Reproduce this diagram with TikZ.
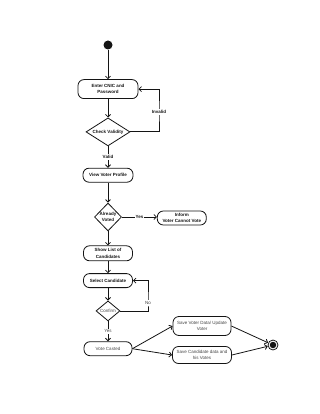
\documentclass[tikz,border=0pt]{standalone}
\usepackage{fontspec}
\setmainfont{Liberation Sans}
\usepackage{xcolor}
\usetikzlibrary{arrows.meta,positioning,shapes.geometric}
\definecolor{ink}{RGB}{20,20,20}
\definecolor{grayink}{RGB}{70,70,70}
\tikzset{
  actbox/.style={draw=ink, rounded corners=6pt, line width=0.8pt,
    minimum width=49pt, minimum height=14pt, inner sep=1pt, align=center,
    font=\fontsize{4.5}{6.2}\selectfont\bfseries, text=ink, fill=white},
  lowbox/.style={actbox, font=\fontsize{4.5}{6.2}\selectfont, text=grayink},
  choice/.style={diamond, draw=ink, line width=0.8pt, inner sep=0pt, fill=white},
  choicetext/.style={align=center, inner sep=0pt, font=\fontsize{4.5}{6}\selectfont\bfseries, text=ink},
  lowchoicetext/.style={choicetext, font=\fontsize{4.5}{6}\selectfont, text=grayink},
  guard/.style={fill=white, inner sep=1pt, font=\fontsize{4.5}{5.6}\selectfont\bfseries, text=ink},
  lowguard/.style={guard, font=\fontsize{4.5}{5.6}\selectfont, text=grayink},
  flow/.style={-{Straight Barb[length=2.5pt,width=5pt]}, line width=0.8pt, draw=ink}
}

\begin{document}
\begin{tikzpicture}[x=1pt, y=-1pt, node distance=20pt]
\useasboundingbox (0,0) rectangle (320,414);
\node[circle, fill=ink, minimum size=9pt, inner sep=0pt] (start) at (108,45) {};
\node[actbox, minimum width=60pt, minimum height=19pt, below=29.5pt of start] (cnic) {Enter CNIC and\\Password};
\node[choice, minimum width=44pt, minimum height=28pt, below=18.5pt of cnic,
  label={[choicetext]center:Check Validity}] (valid) {};
\node[actbox, minimum width=50pt, below=21.5pt of valid] (profile) {View Voter Profile};
\node[choice, minimum width=27pt, minimum height=28pt, below=20pt of profile,
  label={[choicetext]center:Already\\Voted}] (voted) {};
\node[actbox, right=35pt of voted, yshift=-1pt] (inform) {Inform\\Voter Cannot Vote};
\node[actbox, minimum height=15pt, below=14pt of voted] (list) {Show List of\\Candidates};
\node[actbox, below=12pt of list] (select) {Select Candidate};
\node[choice, minimum width=24pt, minimum height=20pt, below=12.5pt of select,
  label={[lowchoicetext]center:Confirm}] (confirm) {};
\node[lowbox, minimum width=48pt, below=20pt of confirm] (vote) {Vote Casted};
\node[lowbox, minimum width=58pt, minimum height=19pt] (savevoter) at (202,326) {Save Voter Data/ Update\\Voter};
\node[lowbox, minimum width=59pt, minimum height=17pt] (savecand) at (202,355) {Save Candidate data and\\his Votes};
\node[circle, draw=ink, line width=0.8pt, minimum size=10pt, inner sep=0pt] (finish) at (273,345) {};
\node[circle, fill=ink, minimum size=6.5pt, inner sep=0pt] (finishdot) at (finish) {};

\coordinate (invalidturn) at (159,112);
\coordinate (noturn) at (148,303);

\draw[flow] (start) -- (cnic);
\draw[flow] (cnic) -- (valid);
\draw[flow] (valid.east) -| (invalidturn) |- (cnic.east);
\node[guard] (invalidlbl) at (invalidturn) {Invalid};
\draw[flow] (valid) -- node[guard] (validlbl) {Valid} (profile);
\draw[flow] (profile) -- (voted);
\draw[flow] (voted.east) -- node[guard] (yeslbl) {Yes} (inform.west |- voted.east);
\draw[flow] (voted) -- (list);
\draw[flow] (list) -- (select);
\draw[flow] (select) -- (confirm);
\draw[flow] (confirm.east) -| (noturn) |- (select.east);
\node[lowguard] (nolbl) at (noturn) {No};
\draw[flow] (confirm) -- node[lowguard] (yes2lbl) {Yes} (vote);
\draw[flow] (vote.east) -- (savevoter.west);
\draw[flow] (vote.east) -- (savecand.west);
\draw[flow] (savevoter.east) -- (finish);
\draw[flow] (savecand.east) -- (finish);
\end{tikzpicture}
\end{document}
